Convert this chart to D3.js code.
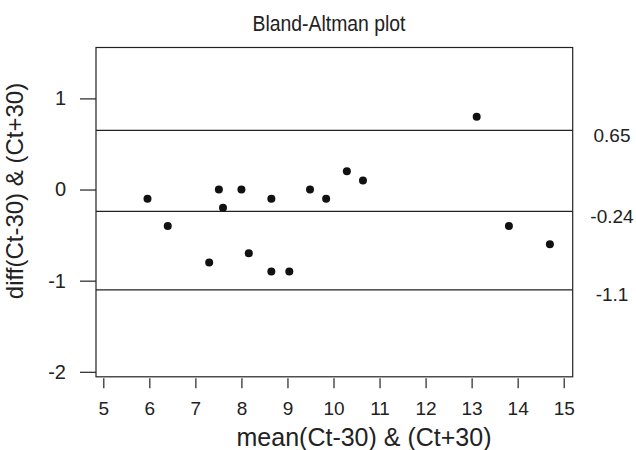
<!DOCTYPE html>
<html>
<head>
<meta charset="utf-8">
<script src="https://cdn.jsdelivr.net/npm/d3@7"></script>
<style>
  html, body { margin: 0; padding: 0; background: #fff; }
  svg { display: block; }
  text { font-family: "Liberation Sans", Arial, sans-serif; fill: #222; }
</style>
</head>
<body>
<svg id="chart" width="636" height="450"></svg>
<script>
// ---- data ----
const meanValues = [5.96, 6.40, 7.30, 7.51, 7.60, 8.00, 8.16, 8.65, 8.65, 9.04, 9.49, 9.84, 10.29, 10.64, 13.11, 13.81, 14.70];
const diffValues = [-0.1, -0.4, -0.8, 0.0, -0.2, 0.0, -0.7, -0.1, -0.9, -0.9, 0.0, -0.1, 0.2, 0.1, 0.8, -0.4, -0.6];
const refLines = [0.65, -0.24, -1.1];
const refLabels = ["0.65", "-0.24", "-1.1"];
const xTicks = [5, 6, 7, 8, 9, 10, 11, 12, 13, 14, 15];
const yTicks = [-2, -1, 0, 1];
const titleText = "Bland-Altman plot";
const xTitle = "mean(Ct-30) & (Ct+30)";
const yTitle = "diff(Ct-30) & (Ct+30)";

// ---- layout ----
const svg = d3.select("#chart");
const box = { left: 96, right: 572.7, top: 47.5, bottom: 376.8 };

const x = d3.scaleLinear().domain([5, 15]).range([103.3, 563.7]);
const y = d3.scaleLinear().domain([-2, 1]).range([371.8, 98.4]);

const ink = "#222";
const plainFormat = d => String(d);

// title
svg.append("text")
  .attr("x", 329).attr("y", 31)
  .attr("text-anchor", "middle")
  .attr("textLength", 153)
  .attr("lengthAdjust", "spacingAndGlyphs")
  .style("font-size", "22px")
  .text(titleText);

// plot box
svg.append("rect")
  .attr("x", box.left).attr("y", box.top)
  .attr("width", box.right - box.left).attr("height", box.bottom - box.top)
  .attr("fill", "none").attr("stroke", ink).attr("stroke-width", 1.2);

// reference lines
svg.append("g").selectAll("line").data(refLines).join("line")
  .attr("x1", box.left).attr("x2", box.right)
  .attr("y1", d => y(d)).attr("y2", d => y(d))
  .attr("stroke", ink).attr("stroke-width", 1.2);

// reference labels
svg.append("g").selectAll("text").data(refLines).join("text")
  .attr("x", 612).attr("y", d => y(d) + 5)
  .attr("text-anchor", "middle")
  .attr("dominant-baseline", "central")
  .style("font-size", "19px")
  .text((d, i) => refLabels[i]);

// x axis
const xAxis = svg.append("g")
  .attr("transform", `translate(0,${box.bottom + 1.5})`)
  .call(d3.axisBottom(x).tickValues(xTicks).tickFormat(plainFormat).tickSize(10).tickPadding(13));
xAxis.select(".domain").remove();
xAxis.selectAll(".tick line").attr("stroke", ink).attr("stroke-width", 1.2);
xAxis.selectAll(".tick text").style("font-size", "19px").style("font-family", "Liberation Sans, Arial, sans-serif").attr("fill", ink);

// y axis
const yAxis = svg.append("g")
  .attr("transform", `translate(${box.left},0)`)
  .call(d3.axisLeft(y).tickValues(yTicks).tickFormat(plainFormat).tickSize(16).tickPadding(14));
yAxis.select(".domain").remove();
yAxis.selectAll(".tick line").attr("stroke", ink).attr("stroke-width", 1.2);
yAxis.selectAll(".tick text").style("font-size", "20px").style("font-family", "Liberation Sans, Arial, sans-serif").attr("fill", ink);

// axis titles
svg.append("text")
  .attr("x", 364).attr("y", 446)
  .attr("text-anchor", "middle")
  .style("font-size", "25px")
  .text(xTitle);

svg.append("text")
  .attr("transform", "translate(23,191) rotate(-90)")
  .attr("text-anchor", "middle")
  .style("font-size", "24px")
  .text(yTitle);

// points
svg.append("g").selectAll("circle").data(meanValues).join("circle")
  .attr("cx", d => x(d))
  .attr("cy", (d, i) => y(diffValues[i]))
  .attr("r", 4)
  .attr("fill", "#111");
</script>
</body>
</html>
